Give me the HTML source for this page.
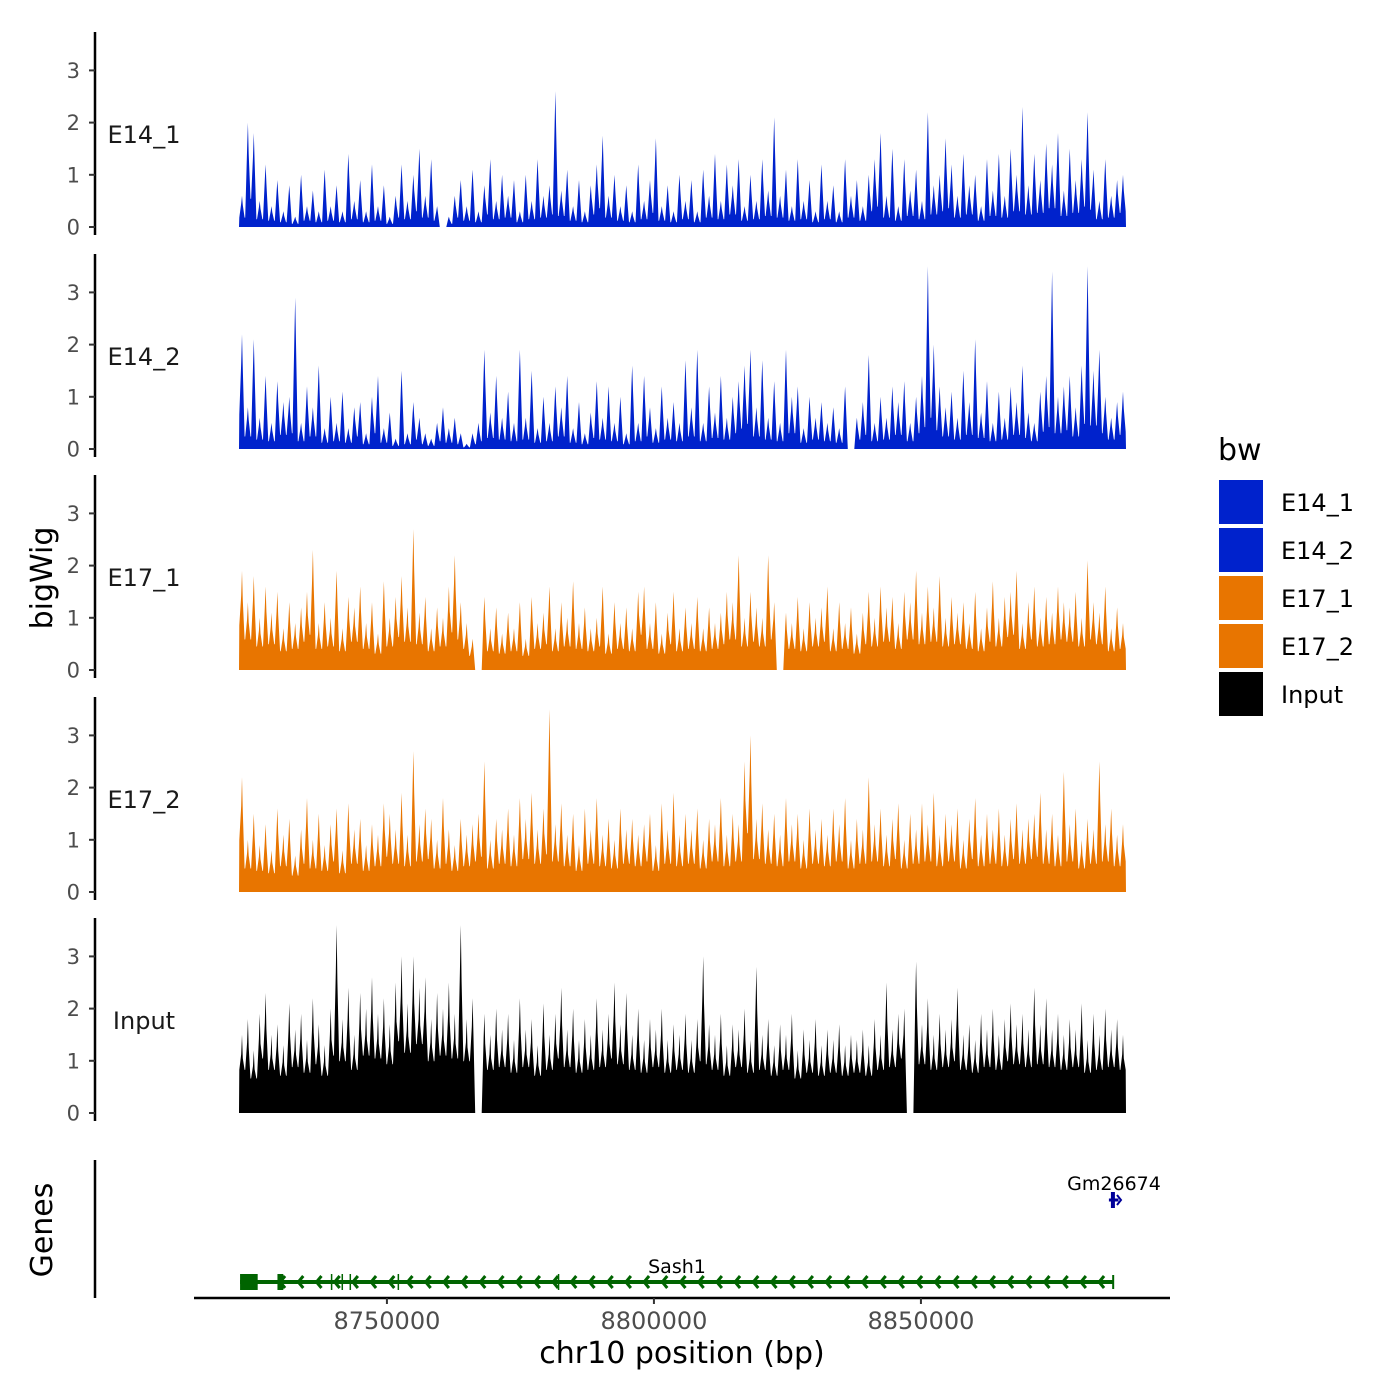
<!DOCTYPE html>
<html><head><meta charset="utf-8"><style>
html,body{margin:0;padding:0;background:#fff;}
svg{display:block;font-family:"DejaVu Sans","Liberation Sans",sans-serif;}
</style></head><body>
<svg id="chart" width="1400" height="1400" viewBox="0 0 1400 1400"></svg>
<script>
const trackNames = ["E14_1","E14_2","E17_1","E17_2","Input"];
const trackColors = ["#0022cc","#0022cc","#e87500","#e87500","#000000"];
const e14_1 = [0.6,2.0,1.8,0.5,1.2,0.4,0.9,0.3,0.8,0.2,1.0,0.4,0.7,0.3,1.1,
0.4,0.8,0.3,1.4,0.5,0.9,0.3,1.2,0.4,0.8,0.2,0.6,1.2,0.5,1.0,
1.5,0.6,1.3,0.4,0.0,0.2,0.6,0.9,0.4,1.1,0.3,0.8,1.3,0.5,1.0,
0.6,0.9,0.3,1.0,0.5,1.3,0.6,0.8,2.6,0.7,1.1,0.4,0.9,0.3,0.8,
1.2,1.75,0.6,1.0,0.4,0.8,0.3,1.2,0.5,0.9,1.7,0.4,0.8,0.3,1.0,
0.5,0.9,0.3,1.1,0.6,1.4,0.5,1.2,0.8,1.3,0.4,1.0,0.5,1.3,0.7,
2.1,0.6,1.1,0.4,1.3,0.5,0.9,0.3,1.2,0.5,0.8,0.3,1.3,0.6,0.9,
0.4,1.0,1.3,1.8,0.6,1.5,0.4,1.3,0.7,1.1,0.5,2.2,0.8,1.0,1.7,
1.2,0.6,1.4,0.8,1.0,0.4,1.3,0.7,1.4,0.6,1.5,1.0,2.3,0.8,1.4,
0.9,1.6,1.2,1.8,0.7,1.5,0.9,1.3,2.2,1.1,0.5,1.3,0.6,0.9,1.0];
const e14_2 = [2.2,0.8,2.1,0.6,1.4,0.5,1.3,0.9,1.0,2.9,0.5,1.2,0.8,1.6,0.4,
1.0,0.5,1.1,0.4,0.8,0.9,0.3,1.0,1.4,0.4,0.7,0.2,1.5,0.3,0.9,
0.6,0.3,0.2,0.5,0.8,0.4,0.6,0.3,0.1,0.3,0.5,1.9,0.7,1.4,0.6,
1.1,0.5,1.9,0.6,1.5,0.4,1.0,0.5,1.2,0.8,1.4,0.4,0.9,0.3,0.7,
1.3,0.6,1.2,0.5,1.0,0.3,1.6,0.5,1.4,0.8,0.4,1.2,0.6,0.9,0.5,
1.7,0.8,1.9,0.5,1.2,0.7,1.4,0.6,1.0,1.3,1.6,1.9,0.8,1.7,0.6,
1.3,0.5,1.9,1.0,1.2,0.4,1.0,0.6,0.9,0.5,0.8,0.4,1.2,0.0,0.6,
0.9,1.8,0.5,1.0,0.6,1.2,0.9,1.3,0.5,1.0,1.4,3.5,2.0,1.2,0.8,
1.1,0.6,1.5,0.9,2.1,0.7,1.3,0.5,1.1,0.6,1.2,0.9,1.6,0.7,0.5,
1.1,1.4,3.4,1.0,1.2,1.4,0.8,1.6,3.5,1.5,1.9,1.0,0.6,0.9,1.1];
const e17_1 = [1.9,1.3,1.8,1.0,1.6,1.1,1.5,0.8,1.3,0.9,1.2,1.5,2.3,0.9,1.3,
1.0,1.9,0.8,1.4,1.2,1.6,0.9,1.3,0.7,1.7,1.0,1.4,1.8,1.2,2.7,
1.1,1.4,0.8,1.2,1.0,1.6,2.2,1.3,0.9,0.6,0.0,1.4,0.8,1.2,0.7,
1.1,0.8,1.3,0.6,1.4,0.9,1.1,1.6,0.8,1.3,1.0,1.7,0.9,1.2,0.8,
1.0,1.6,0.7,1.3,0.9,1.2,0.8,1.5,1.6,0.9,1.3,0.7,1.1,1.5,0.8,
1.2,0.9,1.4,0.8,1.2,0.9,1.1,1.5,1.3,2.2,1.0,1.5,1.2,1.0,2.2,
1.3,0.0,1.1,0.9,1.4,0.8,1.3,1.0,1.2,1.6,0.8,1.3,0.9,1.2,0.7,
1.1,1.5,1.0,1.6,1.2,1.4,0.9,1.5,1.3,1.9,1.1,1.6,1.2,1.8,1.0,
1.4,1.1,1.3,0.9,1.5,0.8,1.2,1.7,1.0,1.4,1.5,1.9,0.9,1.3,1.6,
1.0,1.4,1.1,1.6,1.3,1.2,1.5,1.0,2.1,1.3,1.1,1.6,0.8,1.2,0.9];
const e17_2 = [2.2,1.0,1.5,0.9,1.3,0.8,1.6,1.1,1.4,0.7,1.2,1.8,1.0,1.5,0.9,
1.3,1.6,0.8,1.7,1.2,1.4,0.9,1.3,1.1,1.7,1.5,1.2,1.9,1.1,2.7,
1.3,1.6,1.4,1.0,1.8,1.2,0.9,1.4,1.1,1.3,1.5,2.5,1.0,1.4,1.2,
1.6,1.1,1.8,1.4,1.9,1.2,1.6,3.5,1.3,1.7,1.1,1.5,0.9,1.6,1.2,
1.8,1.1,1.4,1.0,1.6,1.2,1.4,1.1,1.3,1.5,0.9,1.7,1.2,1.9,1.1,
1.5,1.2,1.6,1.0,1.4,1.3,1.8,1.1,1.5,1.3,2.5,3.0,1.4,1.7,1.2,
1.5,1.1,1.8,1.3,1.5,1.0,1.6,1.2,1.4,1.1,1.6,1.3,1.8,1.0,1.4,
1.2,2.2,1.3,1.6,1.1,1.4,1.7,1.0,1.5,1.2,1.7,1.3,1.9,1.1,1.5,
1.3,1.6,1.0,1.4,1.8,1.1,1.5,1.2,1.6,1.1,1.4,1.7,1.2,1.4,1.5,
1.9,1.2,1.5,1.1,2.3,1.3,1.6,1.0,1.4,1.2,2.5,1.3,1.6,1.1,1.3];
const inputVals = [1.5,1.8,1.2,1.9,2.3,1.5,1.7,1.3,2.1,1.6,1.9,1.4,2.2,1.7,1.3,
2.0,3.6,1.8,2.4,1.5,2.3,2.0,2.6,1.9,2.2,1.7,2.5,3.0,2.1,3.0,
2.4,2.6,1.8,2.3,2.0,2.5,1.9,3.6,1.8,2.2,0.0,1.9,1.5,2.0,1.6,
1.9,1.4,2.2,1.6,1.8,1.3,2.1,1.5,1.9,2.4,1.6,2.0,1.4,1.8,1.5,
2.2,1.6,1.9,2.5,1.7,2.3,1.5,2.0,1.4,1.8,1.6,2.0,1.4,1.7,1.5,
1.9,1.4,1.8,3.0,1.7,1.5,1.9,1.3,1.7,1.6,2.0,1.4,2.8,1.5,1.8,
1.3,1.7,1.5,1.9,1.2,1.6,1.4,1.8,1.3,1.6,1.4,1.7,1.3,1.5,1.4,
1.6,1.3,1.8,1.5,2.5,1.6,1.9,2.0,0.0,2.9,1.7,2.2,1.5,1.9,1.6,
1.8,2.4,1.5,1.7,1.4,1.9,1.6,2.0,1.5,1.8,2.1,1.7,1.9,1.6,2.4,
1.7,2.2,1.6,1.9,1.5,1.8,1.6,2.1,1.4,1.9,1.5,2.0,1.6,1.8,1.5];
const yTicks = [0,1,2,3];
const xTicks = [8750000,8800000,8850000];
const xTickLabels = ["8750000","8800000","8850000"];
const regionStart = 8722300, regionEnd = 8888400;
const sash1 = [8722500, 8886000];
const sash1Exons = [[8722500,8725800],[8729500,8730600],[8739500,8739700],[8741500,8741600],[8743000,8743100],[8752000,8752100],[8782000,8782200]];
const gm26674 = [8885200, 8887000];

const series = [e14_1,e14_2,e17_1,e17_2,inputVals];
const troughFrac = [0.3,0.3,0.45,0.45,0.55];
const NS="http://www.w3.org/2000/svg";
const svg=document.getElementById('chart');
function mk(tag,attrs,parent){const e=document.createElementNS(NS,tag);for(const k in attrs)e.setAttribute(k,attrs[k]);(parent||svg).appendChild(e);return e;}
function xScale(bp){return 239+(bp-regionStart)/(regionEnd-regionStart)*(1126-239);}
const panelZero=[227,449,670,892,1113];
const unit=52.2;
series.forEach((vals,p)=>{
  const g=mk('g',{});
  
  
  const y0=panelZero[p];
  const ys=v=>y0-v*unit;
  const n=vals.length, step=(regionEnd-regionStart)/n;
  let d='M'+xScale(regionStart)+','+y0;
  vals.forEach((v,i)=>{
    const xa=xScale(regionStart+i*step), xc=xScale(regionStart+(i+0.5)*step), xb=xScale(regionStart+(i+1)*step);
    const nb=i<n-1?vals[i+1]:v;
    const tr=Math.min(v,nb)*troughFrac[p];
    const trPrev=i>0?Math.min(v,vals[i-1])*troughFrac[p]:v*troughFrac[p];
    d+=' L'+(xa+0.3).toFixed(1)+','+ys(trPrev).toFixed(1);
    d+=' L'+(xc-0.8).toFixed(1)+','+ys(v*0.75).toFixed(1);
    d+=' L'+xc.toFixed(1)+','+ys(v).toFixed(1);
    d+=' L'+(xc+0.8).toFixed(1)+','+ys(v*0.7).toFixed(1);
    d+=' L'+(xb-0.3).toFixed(1)+','+ys(tr).toFixed(1);
  });
  d+=' L'+xScale(regionEnd)+','+y0+' Z';
  const a=mk('path',{d:d,fill:trackColors[p]},g);
  
  
  const ax=mk('line',{x1:95,x2:95,y1:y0-195,y2:y0+8,stroke:'#000','stroke-width':2.5},g);
  
  
  yTicks.forEach(t=>{
    mk('line',{x1:89,x2:95,y1:ys(t),y2:ys(t),stroke:'#333','stroke-width':2},g);
    const tl=mk('text',{x:80,y:ys(t)+7.5,'text-anchor':'end','font-size':21,fill:'#4d4d4d'},g);
    tl.textContent=t;
    
    
  });
  const lab=mk('text',{x:144,y:y0-84,'text-anchor':'middle','font-size':24,fill:'#1a1a1a'},g);
  lab.textContent=trackNames[p];
  
  
});
// genes
const gg=mk('g',{});


const gy=1282, green='#006400';
mk('line',{x1:xScale(sash1[0]),x2:xScale(sash1[1]),y1:gy,y2:gy,stroke:green,'stroke-width':4},gg);
for(let x=xScale(sash1[0])+40;x<xScale(sash1[1]);x+=18.2){
  mk('polyline',{points:(x+5)+','+(gy-6)+' '+x+','+gy+' '+(x+5)+','+(gy+6),fill:'none',stroke:green,'stroke-width':3},gg);
}
sash1Exons.forEach(e=>{
  const x1=xScale(e[0]),x2=Math.max(xScale(e[1]),x1+1.5);
  const r=mk('rect',{x:x1,y:gy-8,width:x2-x1,height:16,fill:green},gg);
  
  
});
mk('line',{x1:xScale(sash1[1]),x2:xScale(sash1[1]),y1:gy-7,y2:gy+7,stroke:green,'stroke-width':2},gg);
const sl=mk('text',{x:677,y:1273,'text-anchor':'middle','font-size':19,fill:'#000'},gg);
sl.textContent='Sash1';


mk('line',{x1:xScale(gm26674[0]),x2:xScale(gm26674[1]),y1:1200,y2:1200,stroke:'#000099','stroke-width':3},gg);
mk('rect',{x:xScale(gm26674[0])+2,y:1192,width:4,height:16,fill:'#000099'},gg);
mk('polyline',{points:'1117,1195 1121,1200 1117,1205',fill:'none',stroke:'#000099','stroke-width':2},gg);
const gl=mk('text',{x:1114,y:1190,'text-anchor':'middle','font-size':19,fill:'#000'},gg);
gl.textContent='Gm26674';


mk('line',{x1:95,x2:95,y1:1160,y2:1298,stroke:'#000','stroke-width':2.5},gg);
// x axis
const xa=mk('g',{});


mk('line',{x1:194,x2:1170,y1:1298,y2:1298,stroke:'#000','stroke-width':2.5},xa);
xTicks.forEach((t,i)=>{
  const x=xScale(t);
  mk('line',{x1:x,x2:x,y1:1298,y2:1304,stroke:'#333','stroke-width':2},xa);
  const tl=mk('text',{x:x,y:1329,'text-anchor':'middle','font-size':24,fill:'#4d4d4d'},xa);
  tl.textContent=xTickLabels[i];
  
  
});
</script>
<svg style="position:absolute;left:0;top:0" width="1400" height="1400">
<text x="682" y="1363" text-anchor="middle" font-size="30" fill="#000" font-family="DejaVu Sans, Liberation Sans, sans-serif">chr10 position (bp)</text>
<text transform="translate(52,578) rotate(-90)" text-anchor="middle" font-size="30" fill="#000" font-family="DejaVu Sans, Liberation Sans, sans-serif">bigWig</text>
<text transform="translate(52,1230) rotate(-90)" text-anchor="middle" font-size="30" fill="#000" font-family="DejaVu Sans, Liberation Sans, sans-serif">Genes</text>
<g font-family="DejaVu Sans, Liberation Sans, sans-serif">
<text x="1218" y="460" font-size="30" fill="#000">bw</text>
<rect x="1219" y="480" width="44" height="44" fill="#0022cc"/>
<rect x="1219" y="528" width="44" height="44" fill="#0022cc"/>
<rect x="1219" y="576" width="44" height="44" fill="#e87500"/>
<rect x="1219" y="624" width="44" height="44" fill="#e87500"/>
<rect x="1219" y="672" width="44" height="44" fill="#000000"/>
<text x="1281" y="511" font-size="24">E14_1</text>
<text x="1281" y="559" font-size="24">E14_2</text>
<text x="1281" y="607" font-size="24">E17_1</text>
<text x="1281" y="655" font-size="24">E17_2</text>
<text x="1281" y="703" font-size="24">Input</text>
</g>
</svg>
</body></html>
